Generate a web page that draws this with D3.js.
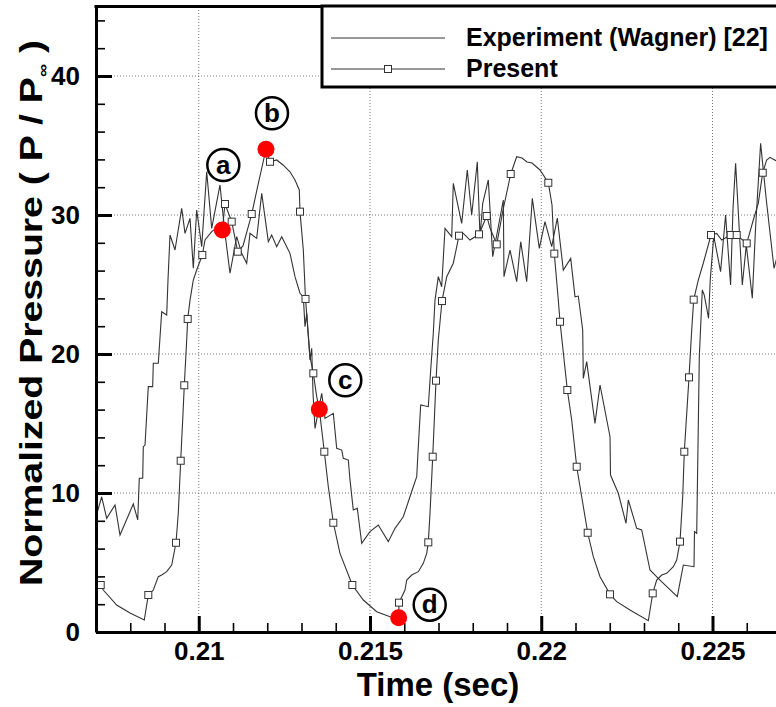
<!DOCTYPE html>
<html>
<head>
<meta charset="utf-8">
<script src="https://cdn.jsdelivr.net/npm/d3@7"></script>
<style>
  body { margin: 0; background: #fff; }
  text { font-family: "Liberation Sans", Arial, sans-serif; font-weight: bold; fill: #000; }
</style>
</head>
<body>
<div id="chart"></div>
<script>
// Experiment (Wagner) [22] : [time (sec), P/Pinf]
const experiment = [
  [0.20700, 8.29], [0.207166, 9.73], [0.207312, 8.18], [0.207555, 9.14], [0.207701, 6.98],
  [0.208089, 9.21], [0.208218, 8.06], [0.208264, 11.06], [0.208364, 11.06], [0.208381, 13.33],
  [0.208431, 13.45], [0.208527, 17.65], [0.208655, 17.65], [0.208673, 19.33], [0.208819, 19.33],
  [0.208918, 23.04], [0.209064, 22.81], [0.209102, 25.32], [0.209161, 28.56], [0.209307, 27.48],
  [0.209502, 30.48], [0.209599, 28.68], [0.209745, 29.76], [0.209841, 26.17], [0.209940, 30.36],
  [0.210086, 27.72], [0.210232, 33.11], [0.210378, 29.04], [0.210620, 32.16], [0.210766, 28.68],
  [0.210912, 25.81], [0.211108, 28.44], [0.211254, 27.24], [0.211400, 26.53], [0.211496, 28.68],
  [0.211692, 28.32], [0.211838, 31.56], [0.212031, 28.08], [0.212130, 28.56], [0.212276, 27.72],
  [0.212422, 28.44], [0.212568, 27.72], [0.212664, 27.24], [0.212810, 25.56], [0.212956, 24.37],
  [0.213053, 24.12], [0.213102, 21.96], [0.213152, 22.93], [0.213248, 19.57], [0.213298, 20.41],
  [0.213336, 17.19], [0.213394, 14.65], [0.213461, 15.49], [0.213590, 17.17], [0.213686, 15.37],
  [0.213929, 15.73], [0.214028, 13.22], [0.214174, 13.09], [0.214221, 12.50], [0.214367, 12.37],
  [0.214416, 10.94], [0.214512, 8.78], [0.214629, 8.90], [0.214758, 6.38], [0.215000, 7.22],
  [0.215242, 7.70], [0.215534, 6.50], [0.215730, 7.46], [0.215972, 8.29], [0.216264, 10.45],
  [0.216364, 11.17], [0.216410, 13.33], [0.216480, 16.33], [0.216702, 16.21], [0.216772, 18.85],
  [0.216848, 21.49], [0.216898, 23.88], [0.216995, 25.57], [0.217093, 24.84], [0.217190, 29.04],
  [0.217386, 28.44], [0.217432, 32.28], [0.217677, 29.40], [0.217841, 33.24], [0.217969, 30.00],
  [0.218133, 33.83], [0.218212, 28.44], [0.218291, 30.84], [0.218454, 32.52], [0.218583, 27.00],
  [0.218892, 31.08], [0.218912, 25.56], [0.219088, 27.48], [0.219283, 25.20], [0.219400, 28.08],
  [0.219575, 25.20], [0.219739, 31.20], [0.219943, 27.60], [0.220109, 29.52], [0.220305, 27.72],
  [0.220469, 29.78], [0.220644, 26.04], [0.220860, 26.88], [0.220986, 24.12], [0.221082, 24.17],
  [0.221210, 21.73], [0.221228, 18.25], [0.221327, 19.45], [0.221569, 15.01], [0.221716, 17.77],
  [0.222008, 14.05], [0.222022, 11.29], [0.222250, 9.98], [0.222475, 7.82], [0.222542, 9.50],
  [0.222787, 7.46], [0.222933, 7.34], [0.223175, 4.46], [0.223467, 3.74], [0.223972, 2.54],
  [0.224148, 4.82], [0.224460, 4.70], [0.224474, 7.22], [0.224539, 7.10], [0.224615, 19.81],
  [0.224702, 24.60], [0.224760, 24.24], [0.224885, 22.57], [0.224934, 25.32], [0.225037, 28.49],
  [0.225236, 25.92], [0.225382, 30.00], [0.225528, 24.96], [0.225599, 30.48], [0.225675, 33.72],
  [0.225870, 24.96], [0.225987, 27.84], [0.226162, 24.01], [0.226259, 29.16], [0.226405, 35.16],
  [0.226571, 31.08], [0.226796, 26.17], [0.226942, 27.48], [0.227088, 28.20]
];

// Present (computed) : [time (sec), P/Pinf]
const present = [
  [0.207000, 3.74], [0.207137, 3.38], [0.207213, 3.02], [0.207604, 1.94], [0.207993, 1.37],
  [0.208410, 0.86], [0.208527, 2.66], [0.208673, 3.02], [0.208819, 3.98], [0.208918, 4.10],
  [0.209064, 4.34], [0.209210, 4.82], [0.209336, 6.42], [0.209403, 8.56], [0.209473, 12.32],
  [0.209531, 15.25], [0.209578, 17.75], [0.209648, 21.01], [0.209677, 22.52], [0.209745, 23.88],
  [0.209841, 25.32], [0.209940, 26.04], [0.210104, 27.12], [0.210183, 28.20], [0.210378, 28.80],
  [0.210571, 29.16], [0.210688, 28.92], [0.210766, 30.79], [0.210962, 29.52], [0.211137, 27.36],
  [0.211292, 27.77], [0.211546, 30.07], [0.211730, 32.16], [0.211963, 34.73], [0.212080, 33.83],
  [0.212276, 33.96], [0.212460, 33.60], [0.212664, 33.11], [0.212810, 32.52], [0.212936, 31.80],
  [0.212956, 30.24], [0.213053, 27.48], [0.213117, 23.96], [0.213248, 19.81], [0.213345, 18.61],
  [0.213444, 16.93], [0.213520, 16.02], [0.213666, 12.97], [0.213783, 10.45], [0.213929, 7.86],
  [0.214124, 5.66], [0.214484, 3.38], [0.214805, 2.30], [0.215196, 1.46], [0.215584, 1.10],
  [0.215838, 1.03], [0.215847, 2.11], [0.216022, 3.02], [0.216072, 3.74], [0.216218, 4.10],
  [0.216411, 4.34], [0.216556, 4.94], [0.216656, 5.66], [0.216702, 6.45], [0.216752, 8.54],
  [0.216831, 12.61], [0.216878, 15.25], [0.216927, 18.08], [0.216994, 21.01], [0.217102, 23.81],
  [0.217240, 25.56], [0.217432, 26.53], [0.217599, 28.51], [0.217724, 28.68], [0.217920, 28.20],
  [0.218183, 28.61], [0.218408, 29.93], [0.218504, 29.06], [0.218700, 27.89], [0.218884, 30.36],
  [0.219108, 32.95], [0.219283, 34.19], [0.219438, 34.10], [0.219584, 33.81], [0.219730, 33.74],
  [0.219964, 33.24], [0.220206, 32.32], [0.220314, 30.72], [0.220381, 27.22], [0.220498, 23.88],
  [0.220548, 22.32], [0.220761, 17.41], [0.220889, 15.25], [0.221035, 11.89], [0.221181, 9.73],
  [0.221356, 7.14], [0.221520, 5.42], [0.221716, 3.98], [0.222008, 2.71], [0.222203, 2.18],
  [0.222591, 1.58], [0.223126, 0.81], [0.223254, 2.78], [0.223371, 3.74], [0.223517, 4.10],
  [0.223663, 4.22], [0.223856, 4.70], [0.223955, 5.18], [0.224051, 6.50], [0.224130, 9.73],
  [0.224177, 12.97], [0.224314, 18.32], [0.224393, 21.73], [0.224451, 23.91], [0.224585, 25.32],
  [0.224731, 26.53], [0.224956, 28.56], [0.225122, 28.68], [0.225268, 28.20], [0.225531, 28.56],
  [0.225707, 28.56], [0.225999, 27.96], [0.226191, 29.64], [0.226337, 30.84], [0.226466, 33.04],
  [0.226582, 33.96], [0.226679, 34.15], [0.226775, 34.01], [0.226854, 33.91], [0.227000, 33.74]
];

// which points of "present" carry a square symbol
const presentSymbolIdx = [1, 6, 12, 14, 16, 18, 22, 27, 28, 29, 31, 34, 40, 42, 44, 47, 49, 51, 56,
  63, 65, 67, 69, 72, 75, 76, 78, 80, 86, 88, 90, 91, 93, 95, 98, 102, 108, 110, 111, 113, 116,
  119, 120, 121, 124];

// highlighted states a-d
const stateNames = ["a", "b", "c", "d"];
const stateT = [0.210688, 0.211963, 0.213520, 0.215838];
const stateP = [28.92, 34.73, 16.02, 1.03];

const xMajor = [0.21, 0.215, 0.22, 0.225];
const yMajor = [0, 10, 20, 30, 40];
const legendNames = ["Experiment (Wagner) [22]", "Present"];

const W = 776, H = 707;
const svg = d3.select("#chart").append("svg")
  .attr("width", W).attr("height", H)
  .style("display", "block");

const x = d3.scaleLinear().domain([0.207, 0.227]).range([96, 781]);
const y = d3.scaleLinear().domain([0, 45]).range([632, 6.5]);

const xMinor = d3.range(207, 228).map(v => v / 1000).filter(v => !xMajor.some(m => Math.abs(m - v) < 1e-9));
const yMinor = d3.range(2, 45, 2).filter(v => v % 10 !== 0);

// dotted grid on major ticks
const grid = svg.append("g");
grid.selectAll(".gx").data(xMajor).enter().append("line")
  .attr("x1", d => x(d)).attr("x2", d => x(d))
  .attr("y1", y(0)).attr("y2", y(45))
  .attr("stroke", "#777").attr("stroke-width", 1).attr("stroke-dasharray", "1,2");
grid.selectAll(".gy").data(yMajor.filter(d => d > 0)).enter().append("line")
  .attr("x1", x.range()[0]).attr("x2", x.range()[1])
  .attr("y1", d => y(d)).attr("y2", d => y(d))
  .attr("stroke", "#777").attr("stroke-width", 1).attr("stroke-dasharray", "1,2");

svg.append("clipPath").attr("id", "plot-clip").append("rect")
  .attr("x", x.range()[0]).attr("y", y(45))
  .attr("width", x.range()[1] - x.range()[0]).attr("height", y(0) - y(45));

const line = d3.line().x(d => x(d[0])).y(d => y(d[1]));
const plot = svg.append("g").attr("clip-path", "url(#plot-clip)");

plot.append("path").datum(experiment)
  .attr("d", line).attr("fill", "none")
  .attr("stroke", "#333").attr("stroke-width", 1.1);

plot.append("path").datum(present)
  .attr("d", line).attr("fill", "none")
  .attr("stroke", "#333").attr("stroke-width", 1.1);

plot.selectAll(".sym").data(presentSymbolIdx.map(i => present[i])).enter().append("rect")
  .attr("x", d => x(d[0]) - 3.5).attr("y", d => y(d[1]) - 3.5)
  .attr("width", 7).attr("height", 7)
  .attr("fill", "#fff").attr("stroke", "#333").attr("stroke-width", 1);

// axes: ticks drawn inward
const fmt = d => String(+d.toFixed(3));
const xAxis = svg.append("g").attr("transform", `translate(0,${y(0)})`)
  .call(d3.axisBottom(x).tickValues(xMajor).tickSize(-16).tickSizeOuter(0).tickPadding(10).tickFormat(fmt));
svg.append("g").attr("transform", `translate(0,${y(0)})`)
  .call(d3.axisBottom(x).tickValues(xMinor).tickSize(-9).tickSizeOuter(0).tickFormat(""))
  .call(g => g.select(".domain").remove())
  .selectAll("line").attr("stroke-width", 1.6);

const yAxis = svg.append("g").attr("transform", `translate(${x.range()[0]},0)`)
  .call(d3.axisLeft(y).tickValues(yMajor).tickSize(-16).tickSizeOuter(0).tickPadding(16).tickFormat(fmt));
svg.append("g").attr("transform", `translate(${x.range()[0]},0)`)
  .call(d3.axisLeft(y).tickValues(yMinor).tickSize(-9).tickSizeOuter(0).tickFormat(""))
  .call(g => g.select(".domain").remove())
  .selectAll("line").attr("stroke-width", 1.6);

[xAxis, yAxis].forEach(g => {
  g.select(".domain").attr("stroke", "#000").attr("stroke-width", 3);
  g.selectAll(".tick line").attr("stroke", "#000").attr("stroke-width", 3);
  g.selectAll(".tick text").style("font-size", "26px").attr("fill", "#000");
});

// top frame
svg.append("line")
  .attr("x1", x.range()[0] - 1.5).attr("x2", W)
  .attr("y1", y(45)).attr("y2", y(45))
  .attr("stroke", "#000").attr("stroke-width", 3);

// axis titles
svg.append("text")
  .attr("x", 438).attr("y", 696)
  .attr("text-anchor", "middle")
  .style("font-size", "33px")
  .text("Time (sec)");

const yt = svg.append("text")
  .attr("transform", "translate(42,586) rotate(-90)")
  .attr("text-anchor", "start")
  .attr("textLength", 546)
  .attr("lengthAdjust", "spacingAndGlyphs")
  .style("font-size", "32px");
yt.append("tspan").text("Normalized Pressure ( P / P");
yt.append("tspan").attr("dy", 6).style("font-size", "15px").text("\u221E");
yt.append("tspan").attr("dy", -6).text(" )");

// states a-d
const states = stateNames.map((n, i) => ({ name: n, t: stateT[i], p: stateP[i] }));
const labelOffset = { a: [1, -65], b: [6, -36], c: [26, -29], d: [31, -13] };

svg.selectAll(".dot").data(states).enter().append("circle")
  .attr("cx", d => x(d.t)).attr("cy", d => y(d.p)).attr("r", 8.5)
  .attr("fill", "#ff0000");

const lab = svg.selectAll(".lab").data(states).enter().append("g")
  .attr("transform", d => `translate(${x(d.t) + labelOffset[d.name][0]},${y(d.p) + labelOffset[d.name][1]})`);
lab.append("circle").attr("r", 16)
  .attr("fill", "#fff").attr("stroke", "#000").attr("stroke-width", 2.5);
lab.append("text").attr("text-anchor", "middle").attr("y", 8.5)
  .style("font-size", "26px").text(d => d.name);

// legend
const lg = svg.append("g");
lg.append("rect")
  .attr("x", 322).attr("y", 6).attr("width", 480).attr("height", 81)
  .attr("fill", "#fff").attr("stroke", "#000").attr("stroke-width", 3);
const rows = [38, 69];
legendNames.forEach((name, i) => {
  lg.append("line")
    .attr("x1", 331).attr("x2", 445).attr("y1", rows[i]).attr("y2", rows[i])
    .attr("stroke", "#333").attr("stroke-width", 1.1);
  if (i === 1) {
    lg.append("rect").attr("x", 388 - 3.5).attr("y", rows[i] - 3.5)
      .attr("width", 7).attr("height", 7)
      .attr("fill", "#fff").attr("stroke", "#333");
  }
  lg.append("text").attr("x", 466).attr("y", rows[i] + 8)
    .style("font-size", "25px").text(name);
});
</script>
</body>
</html>
